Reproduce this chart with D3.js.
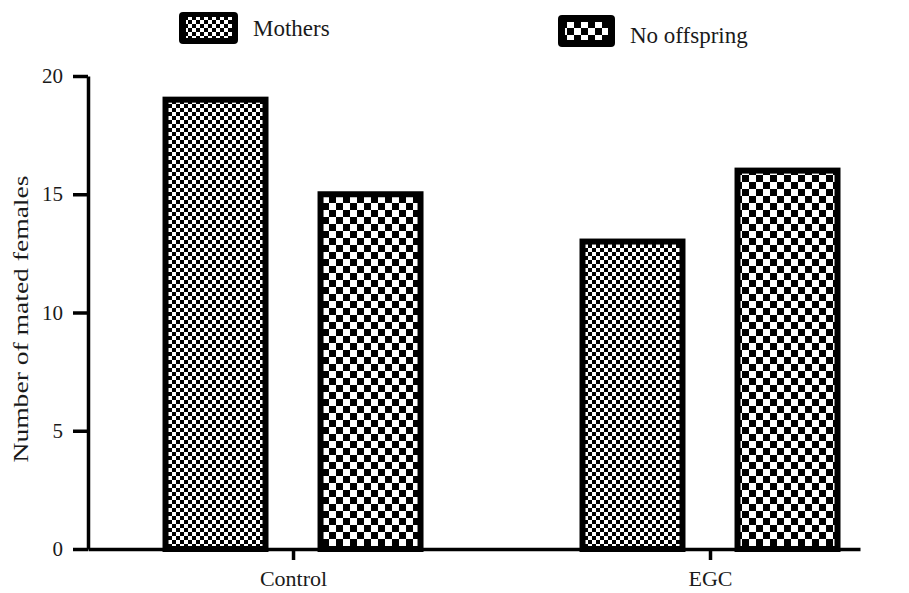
<!DOCTYPE html>
<html>
<head>
<meta charset="utf-8">
<script src="https://cdn.jsdelivr.net/npm/d3@7"></script>
<style>
  html, body { margin: 0; padding: 0; background: #fff; }
  svg { display: block; }
  text { font-family: "Liberation Serif", "Times New Roman", serif; fill: #1a1a1a; }
</style>
</head>
<body>
<svg id="chart" width="909" height="593"></svg>
<script>
const categories = ["Control", "EGC"];
const seriesNames = ["Mothers", "No offspring"];
const mothers = [19, 13];
const noOffspring = [15, 16];
const yTicks = [0, 5, 10, 15, 20];
const yTitle = "Number of mated females";

const svg = d3.select("#chart");
const defs = svg.append("defs");

// fine checker for Mothers
const p1 = defs.append("pattern").attr("id", "patM")
  .attr("patternUnits", "userSpaceOnUse").attr("width", 8).attr("height", 8);
p1.append("rect").attr("width", 8).attr("height", 8).attr("fill", "#fff");
p1.append("rect").attr("x", 0).attr("y", 0).attr("width", 4).attr("height", 4).attr("fill", "#000");
p1.append("rect").attr("x", 4).attr("y", 4).attr("width", 4).attr("height", 4).attr("fill", "#000");

// coarse checker for No offspring
const p2 = defs.append("pattern").attr("id", "patN")
  .attr("patternUnits", "userSpaceOnUse").attr("width", 14).attr("height", 14);
p2.append("rect").attr("width", 14).attr("height", 14).attr("fill", "#fff");
p2.append("rect").attr("x", 7).attr("y", 0).attr("width", 7).attr("height", 7).attr("fill", "#000");
p2.append("rect").attr("x", 0).attr("y", 7).attr("width", 7).attr("height", 7).attr("fill", "#000");

const fills = { "Mothers": "url(#patM)", "No offspring": "url(#patN)" };

const x = d3.scalePoint().domain(categories).range([88, 860]).padding(0.4257).align(0.5775);
const xSub = d3.scaleBand().domain(seriesNames).range([-127.5, 127.5]).paddingInner(0.355).paddingOuter(0);
const y = d3.scaleLinear().domain([0, 20]).range([549, 76]);

const rows = [];
categories.forEach((c, i) => {
  rows.push({ cat: c, s: "Mothers", v: mothers[i] });
  rows.push({ cat: c, s: "No offspring", v: noOffspring[i] });
});

svg.append("g").selectAll("rect").data(rows).join("rect")
  .attr("x", d => x(d.cat) + xSub(d.s))
  .attr("y", d => y(d.v))
  .attr("width", xSub.bandwidth())
  .attr("height", d => y(0) - y(d.v))
  .attr("fill", d => fills[d.s])
  .attr("stroke", "#000")
  .attr("stroke-width", 6);

// axes
const yAxis = svg.append("g").attr("transform", "translate(88,0)")
  .call(d3.axisLeft(y).tickValues(yTicks).tickSize(15).tickSizeOuter(0).tickPadding(10).tickFormat(d3.format("d")));
yAxis.select(".domain").attr("stroke", "#000").attr("stroke-width", 3.5);
yAxis.selectAll(".tick line").attr("stroke", "#000").attr("stroke-width", 3.5);
yAxis.selectAll(".tick text").style("font-size", "21px").style("font-family", "Liberation Serif, serif").attr("fill", "#1a1a1a");

const xAxis = svg.append("g").attr("transform", `translate(0,${y(0)})`)
  .call(d3.axisBottom(x).tickSize(11).tickSizeOuter(0).tickPadding(5));
xAxis.select(".domain").attr("stroke", "#000").attr("stroke-width", 3.5);
xAxis.selectAll(".tick line").attr("stroke", "#000").attr("stroke-width", 3.5);
xAxis.selectAll(".tick text").style("font-size", "22px").style("font-family", "Liberation Serif, serif")
  .attr("fill", "#1a1a1a").attr("dy", "0.95em");

// y title
svg.append("text")
  .attr("transform", "translate(28,319) rotate(-90)")
  .attr("text-anchor", "middle")
  .style("font-size", "21px")
  .attr("textLength", 287)
  .attr("lengthAdjust", "spacingAndGlyphs")
  .text(yTitle);

// legend
const legend = [
  { s: "Mothers", bx: 179, by: 12, bw: 59, bh: 32, ix: 186, iy: 17, iw: 46, ih: 21, tx: 253, ty: 36 },
  { s: "No offspring", bx: 558, by: 15, bw: 57, bh: 32, ix: 565, iy: 22, iw: 43, ih: 18, tx: 630, ty: 43 }
];
const lg = svg.append("g").selectAll("g").data(legend).join("g");
lg.append("rect").attr("x", d => d.bx).attr("y", d => d.by).attr("width", d => d.bw).attr("height", d => d.bh)
  .attr("rx", 4).attr("fill", "#000");
lg.append("rect").attr("x", d => d.ix).attr("y", d => d.iy).attr("width", d => d.iw).attr("height", d => d.ih)
  .attr("fill", d => fills[d.s]);
lg.append("text").attr("x", d => d.tx).attr("y", d => d.ty).style("font-size", "23px").text(d => d.s);
</script>
</body>
</html>
